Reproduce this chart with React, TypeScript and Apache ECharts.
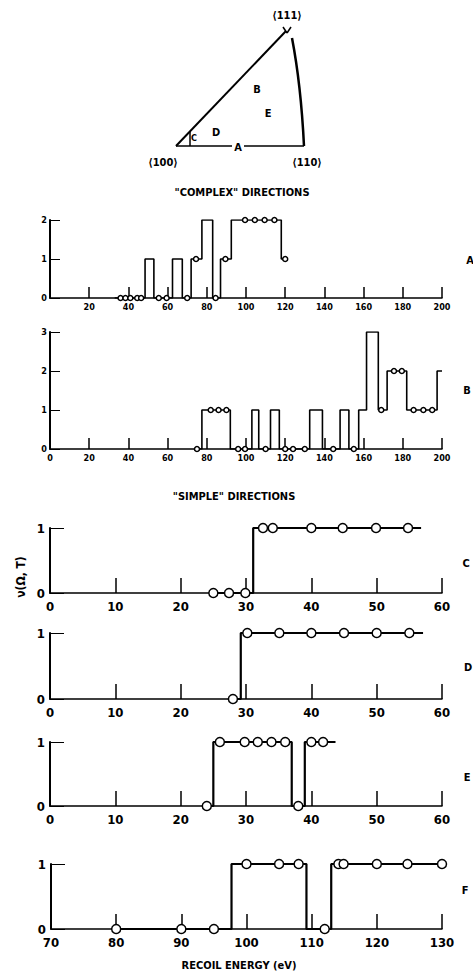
import React, { useEffect, useRef } from "react";
import * as echarts from "echarts";

// ---- data (x = recoil energy eV, y = ν(Ω,T)) ----
// step-change points: value y holds from x until the next point
const stepsA = [[33, 0], [48.5, 1], [53, 0], [62.5, 1], [67.5, 0], [72, 1], [77.5, 2], [83, 0], [87, 1], [92.5, 2], [118, 1], [120, 1]];
const circlesA = [[36, 0], [38.5, 0], [41, 0], [44.5, 0], [46.5, 0], [55.5, 0], [59.5, 0], [70, 0], [84.5, 0], [74.5, 1], [89.5, 1], [120, 1], [99.5, 2], [104.5, 2], [109.5, 2], [114.5, 2]];

const stepsB = [[75, 0], [77.5, 1], [92, 0], [103, 1], [106.5, 0], [112.5, 1], [117, 0], [132.5, 1], [139, 0], [148, 1], [152.5, 0], [157.5, 1], [161.5, 3], [167.5, 1], [172, 2], [182, 1], [197.5, 2], [200, 2]];
const circlesB = [[75, 0], [96, 0], [99.5, 0], [110, 0], [120, 0], [124, 0], [130, 0], [144.5, 0], [155, 0], [82, 1], [86, 1], [90, 1], [169, 1], [185.5, 1], [190.5, 1], [195, 1], [175.5, 2], [179.5, 2]];

const stepsC = [[25, 0], [31.1, 1], [56.8, 1]];
const circlesC = [[25, 0], [27.4, 0], [29.9, 0], [32.6, 1], [34.1, 1], [40, 1], [44.8, 1], [49.9, 1], [54.8, 1]];

const stepsD = [[28, 0], [29.2, 1], [57.1, 1]];
const circlesD = [[28, 0], [30.2, 1], [35.1, 1], [40, 1], [45, 1], [50, 1], [55, 1]];

const stepsE = [[24, 0], [25, 1], [37, 0], [39, 1], [43.7, 1]];
const circlesE = [[24, 0], [38, 0], [26, 1], [29.8, 1], [31.8, 1], [33.9, 1], [36, 1], [40, 1], [41.8, 1]];

const stepsF = [[80, 0], [97.7, 1], [109.2, 0], [113, 1], [130, 1]];
const circlesF = [[80, 0], [90, 0], [95, 0], [112, 0], [100, 1], [105, 1], [108, 1], [114.1, 1], [114.9, 1], [120, 1], [124.7, 1], [130, 1]];

const panelNames = ["A", "B", "C", "D", "E", "F"];
const xRanges = [[0, 200, 20], [0, 200, 20], [0, 60, 10], [0, 60, 10], [0, 60, 10], [70, 130, 10]];
const yMaxes = [2, 3, 1, 1, 1, 1];

const FONT = "'DejaVu Sans Condensed', 'Liberation Sans Narrow', 'DejaVu Sans', sans-serif";

export default function App() {
  const ref = useRef<HTMLDivElement>(null);
  useEffect(() => {
    if (!ref.current) return;
    const chart = echarts.init(ref.current, undefined, { renderer: "svg" });
    const grids = [
      { left: 50, top: 220, width: 392, height: 78 },
      { left: 50, top: 332, width: 392, height: 117 },
      { left: 50, top: 528, width: 392, height: 65 },
      { left: 50, top: 633, width: 392, height: 66 },
      { left: 50, top: 742, width: 392, height: 64 },
      { left: 51, top: 864, width: 391, height: 65 },
    ];
    const steps = [stepsA, stepsB, stepsC, stepsD, stepsE, stepsF];
    const circles = [circlesA, circlesB, circlesC, circlesD, circlesE, circlesF];
    const small = (i: number) => i < 2;
    const xAxis = grids.map((_, i) => ({
      type: "value",
      gridIndex: i,
      min: xRanges[i][0],
      max: xRanges[i][1],
      interval: xRanges[i][2],
      splitLine: { show: false },
      axisLine: { lineStyle: { color: "#000", width: 1.5 } },
      axisTick: { inside: true, length: small(i) ? 11 : 15, lineStyle: { color: "#000", width: 1.5 } },
      axisLabel: {
        color: "#000",
        fontFamily: FONT,
        fontWeight: "bold",
        fontSize: small(i) ? 9 : 13,
        margin: small(i) ? 4 : 7,
        formatter: (v: number) => (i === 0 && v === 0 ? "" : String(v)),
      },
    }));
    const yAxis = grids.map((_, i) => ({
      type: "value",
      gridIndex: i,
      min: 0,
      max: yMaxes[i],
      interval: 1,
      splitLine: { show: false },
      axisLine: { lineStyle: { color: "#000", width: 2 } },
      axisTick: { inside: true, length: small(i) ? 10 : 14, lineStyle: { color: "#000", width: 1 } },
      axisLabel: {
        color: "#000",
        fontFamily: FONT,
        fontWeight: "bold",
        fontSize: small(i) ? 9 : 13,
        margin: small(i) ? 3 : 5,
      },
    }));
    const series: any[] = [];
    grids.forEach((_, i) => {
      series.push({
        type: "line",
        xAxisIndex: i,
        yAxisIndex: i,
        data: steps[i],
        step: "end",
        symbol: "none",
        z: 3,
        lineStyle: { color: "#000", width: small(i) ? 1.6 : 2.2 },
      });
      series.push({
        type: "scatter",
        xAxisIndex: i,
        yAxisIndex: i,
        data: circles[i],
        symbol: "circle",
        symbolSize: small(i) ? 5 : 9,
        z: 4,
        itemStyle: { color: "#fff", borderColor: "#000", borderWidth: 1.5, opacity: 1 },
      });
    });
    const txt = (text: string, x: number, y: number, size: number, extra: any = {}) => ({
      type: "text",
      x,
      y,
      ...extra,
      style: {
        text,
        fill: "#000",
        fontFamily: FONT,
        fontWeight: "bold",
        fontSize: size,
        textAlign: "center",
        textVerticalAlign: "middle",
      },
    });
    const line = (x1: number, y1: number, x2: number, y2: number, w: number) => ({
      type: "line",
      shape: { x1, y1, x2, y2 },
      style: { stroke: "#000", lineWidth: w },
    });
    const panelLabelPos = [[470, 260], [467, 390], [466, 563], [468, 667], [467, 777], [465, 890]];
    const graphic: any[] = [
      line(176, 146, 286, 31, 2),
      line(176, 146, 232, 146, 1.5),
      line(244, 146, 304, 146, 1.5),
      {
        type: "bezierCurve",
        shape: { x1: 292, y1: 38, x2: 304, y2: 146, cpx1: 301, cpy1: 85 },
        style: { stroke: "#000", lineWidth: 2.5, fill: "none" },
      },
      line(283, 27, 287, 33, 1.5),
      line(291, 27, 287, 33, 1.5),
      line(190, 132, 190, 146, 1.5),
      txt("⟨111⟩", 287, 15, 11),
      txt("⟨100⟩", 163, 162, 11),
      txt("⟨110⟩", 307, 162, 11),
      txt("A", 238, 147, 11),
      txt("B", 257, 89, 11),
      txt("E", 268, 113, 11),
      txt("D", 216, 132, 11),
      txt("C", 194, 138, 9),
      txt("\"COMPLEX\" DIRECTIONS", 242, 192, 11),
      txt("\"SIMPLE\" DIRECTIONS", 234, 496, 11),
      txt("RECOIL ENERGY (eV)", 239, 965, 11),
      txt("ν(Ω, T)", 21, 577, 12, { rotation: Math.PI / 2 }),
      ...panelNames.map((n, i) => txt(n, panelLabelPos[i][0], panelLabelPos[i][1], 11)),
    ];
    chart.setOption({
      animation: false,
      backgroundColor: "#fff",
      grid: grids,
      xAxis,
      yAxis,
      series,
      graphic,
    });
    return () => chart.dispose();
  }, []);
  return (
    <div
      ref={ref}
      style={{ position: "absolute", left: 0, top: 0, width: 473, height: 979, background: "#fff" }}
    />
  );
}
